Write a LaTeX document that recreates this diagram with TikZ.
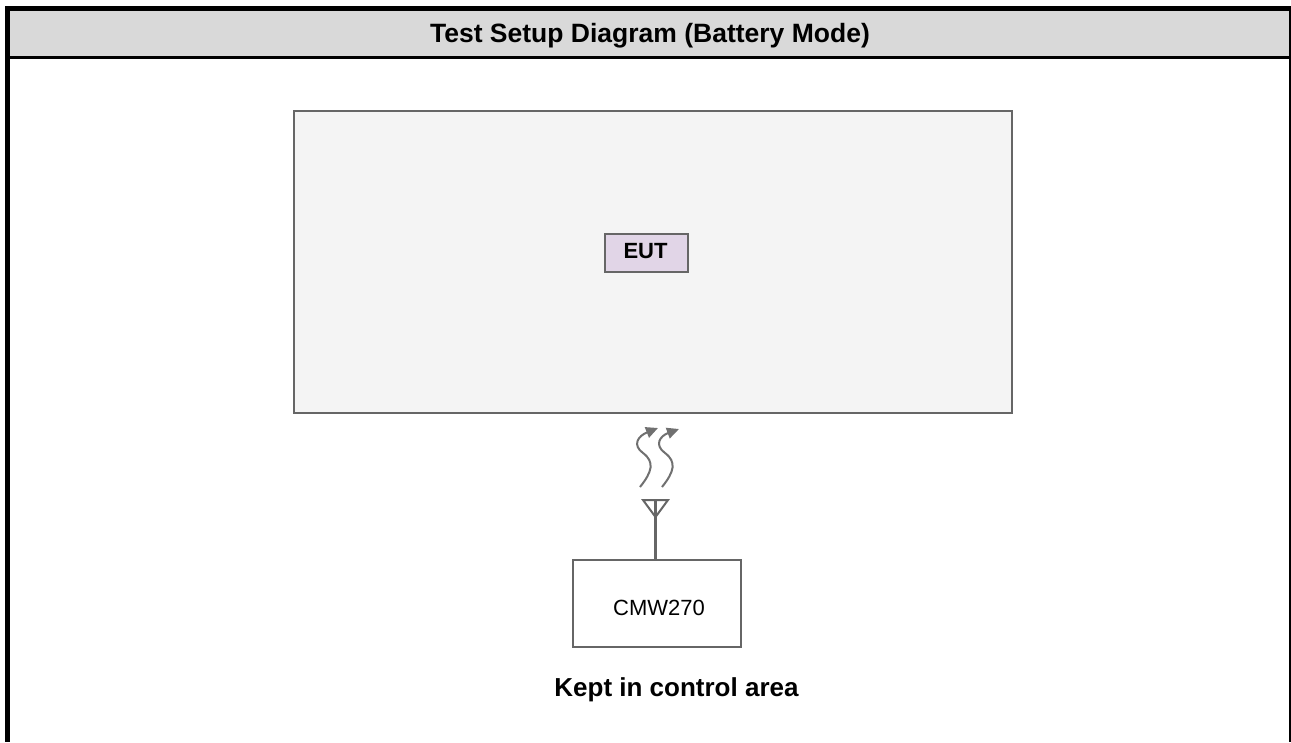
\documentclass[tikz,border=0pt]{standalone}
\usepackage{fontspec}
\setmainfont{Liberation Sans}
\usetikzlibrary{arrows.meta}
\definecolor{hdr}{HTML}{D9D9D9}
\definecolor{boxfill}{HTML}{F4F4F4}
\definecolor{boxline}{HTML}{666666}
\definecolor{eutfill}{HTML}{E1D5E7}
\definecolor{wave}{HTML}{707070}
\begin{document}
\begin{tikzpicture}[x=1pt,y=-1pt,
  gbox/.style={draw=boxline,line width=2pt},
  wavepath/.style={draw=wave,line width=2pt,-{Triangle[length=12pt,width=11pt]}}]
\useasboundingbox (0,0) rectangle (1291,742);
\fill[white] (0,0) rectangle (1291,742);
% header
\fill[hdr] (8,9) rectangle (1290,57);
\fill[black] (5,6) rectangle (1291,11);
\fill[black] (5,55.5) rectangle (1291,58.5);
\fill[black] (5,6) rectangle (10,742);
\fill[black] (1288.5,6) rectangle (1291,742);
\node[anchor=base,font=\bfseries\fontsize{26.5}{30}\selectfont] (title) at (650,42.5) {Test Setup Diagram (Battery Mode)};
% big box
\draw[gbox,fill=boxfill] (294,111) rectangle (1012,413);
\node[gbox,fill=eutfill,minimum width=83pt,minimum height=38pt,inner sep=0pt] (eut) at (646.5,253) {};
\node[anchor=base,font=\bfseries\fontsize{22}{26}\selectfont] (euttext) at (645.5,258.7) {EUT};
% waves
\coordinate (w1s) at (640,487);
\coordinate (w1e) at (658,428);
\coordinate (w2s) at (662,487);
\coordinate (w2e) at (679,429);
\draw[wavepath] (w1s) .. controls (652,472) and (655,462) .. (643,453) .. controls (632,445) and (638,436) .. (w1e);
\draw[wavepath] (w2s) .. controls (674,472) and (677,462) .. (665,453) .. controls (654,445) and (660,436) .. (w2e);
% antenna
\coordinate (atl) at (643,500);
\coordinate (atr) at (668,500);
\coordinate (aap) at (655.5,517);
\draw[gbox,line join=miter] (atl) -- (atr) -- (aap) -- cycle;
\node[gbox,fill=white,minimum width=168pt,minimum height=87pt,inner sep=0pt] (cmw) at (657,603.5) {};
\node[anchor=base,font=\fontsize{22}{26}\selectfont] (cmwtext) at (659,615.7) {CMW270};
\draw[gbox,line width=2.5pt] (aap |- atl) -- (aap |- cmw.north);
\node[anchor=base,font=\bfseries\fontsize{26}{30}\selectfont] (kept) at (676.5,696.7) {Kept in control area};
\end{tikzpicture}
\end{document}
